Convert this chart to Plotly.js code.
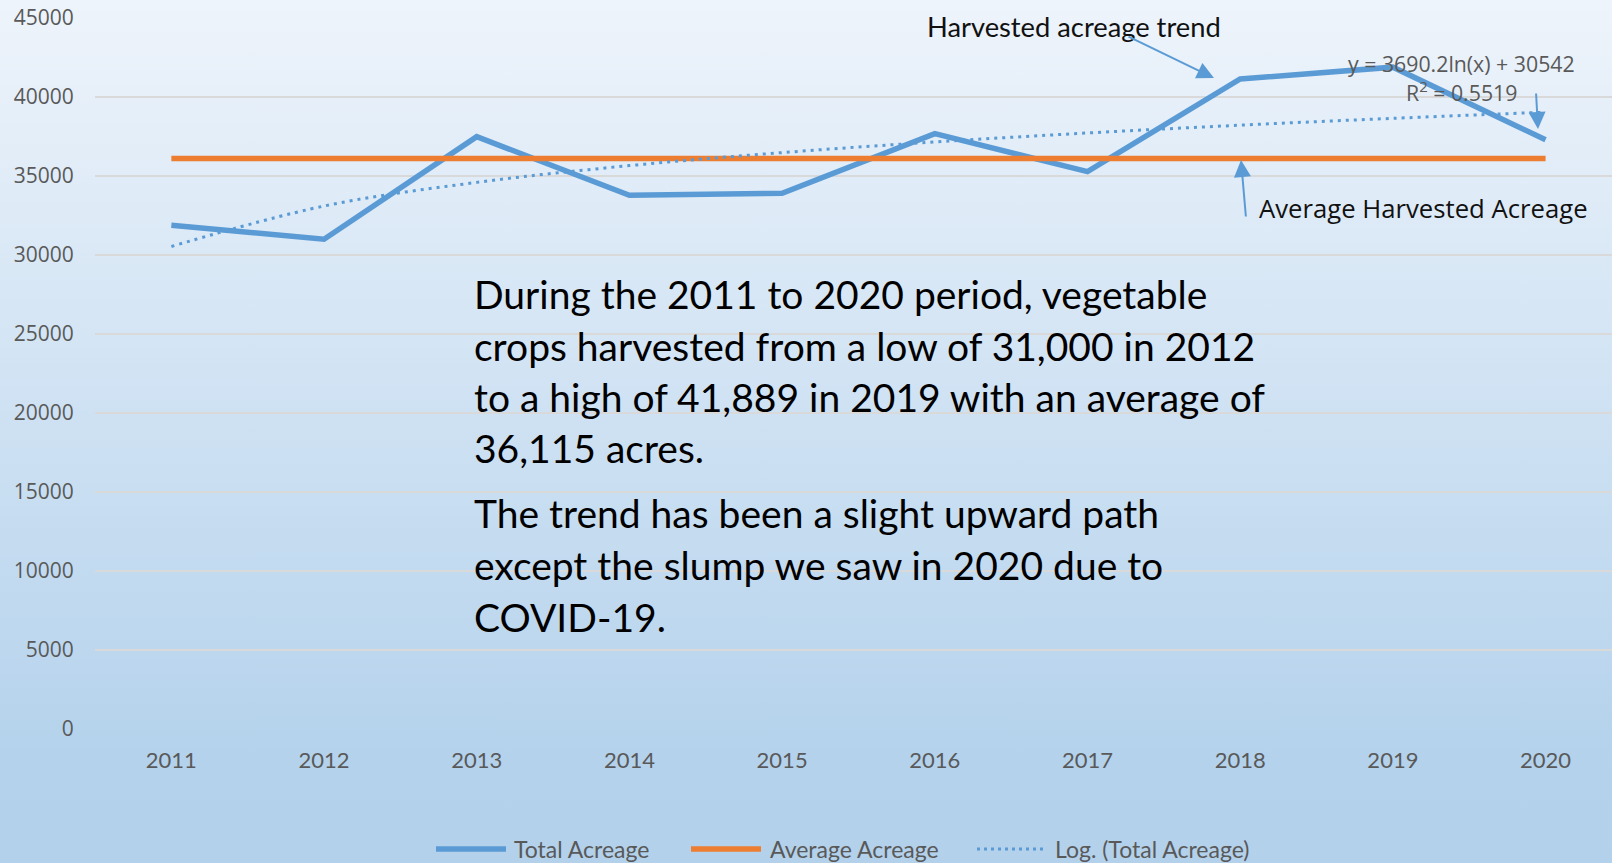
<!DOCTYPE html>
<html>
<head>
<meta charset="utf-8">
<script src="https://cdn.plot.ly/plotly-3.0.1.min.js"></script>
<style>
  html, body { margin: 0; padding: 0; }
  body { width: 1612px; height: 863px; overflow: hidden;
         background: linear-gradient(to bottom, #eef4fb 0%, #b4d2ec 88%, #b3d1eb 100%); }
  #chart { width: 1612px; height: 863px; }
</style>
</head>
<body>
<div id="chart"></div>
<script>
const years = ['2011', '2012', '2013', '2014', '2015', '2016', '2017', '2018', '2019', '2020'];
const totalAcreage = [31890, 31000, 37490, 33780, 33905, 37685, 35275, 41140, 41889, 37290];
const averageAcreage = [36115, 36115, 36115, 36115, 36115, 36115, 36115, 36115, 36115, 36115];
const logTrend = [30542, 33100, 34596, 35658, 36481, 37154, 37723, 38216, 38650, 39039];

const yTicks = [0, 5000, 10000, 15000, 20000, 25000, 30000, 35000, 40000, 45000];

const summaryLines = [
  'During the 2011 to 2020 period, vegetable',
  'crops harvested from a low of 31,000 in 2012',
  'to a high of 41,889 in 2019 with an average of',
  '36,115 acres.',
  'The trend has been a slight upward path',
  'except the slump we saw in 2020 due to',
  'COVID-19.'
];

const BLUE = '#5b9bd5';
const ORANGE = '#ed7d31';
const calibri = 'Lato, "DejaVu Sans Condensed", sans-serif';
const segoe = '"Open Sans", "DejaVu Sans", sans-serif';

// plot box in page pixels, used to place the callouts
const L = 95, R = 1612, T = 18, B = 729;
const px = x => (x - L) / (R - L);
const py = y => (B - y) / (B - T);

const traces = [
  {x: years, y: totalAcreage, name: 'Total Acreage', type: 'scatter', mode: 'lines',
   line: {color: BLUE, width: 5.5}},
  {x: years, y: averageAcreage, name: 'Average Acreage', type: 'scatter', mode: 'lines',
   line: {color: ORANGE, width: 5.5}},
  {x: years, y: logTrend, name: 'Log. (Total Acreage)', type: 'scatter', mode: 'lines',
   line: {color: BLUE, width: 3, dash: '3px,5px', shape: 'spline'}}
];

const textNote = (text, x, y, size, font, color, xanchor) => ({
  text: text, xref: 'paper', yref: 'paper', x: px(x), y: py(y),
  xanchor: xanchor || 'center', yanchor: 'middle', showarrow: false,
  font: {family: font, size: size, color: color}
});

const arrowNote = (tail, head) => ({
  text: '', xref: 'paper', yref: 'paper', x: px(head[0]), y: py(head[1]),
  ax: tail[0] - head[0], ay: tail[1] - head[1], showarrow: true,
  arrowhead: 2, arrowsize: 1.7, arrowwidth: 2, arrowcolor: BLUE, standoff: 0
});

const lineY = [294, 345.5, 397, 448, 513, 565, 617];

// legend drawn by hand so the key lines get Excel's long samples
const legendKeys = [
  {x0: 436, x1: 506, tx: 512, color: BLUE, width: 5.5, dash: 'solid'},
  {x0: 691, x1: 761, tx: 768, color: ORANGE, width: 5.5, dash: 'solid'},
  {x0: 977, x1: 1047, tx: 1053, color: BLUE, width: 3, dash: '3px,4px'}
];
const legendY = 849;

const annotations = [
  textNote('Harvested acreage trend', 1074, 26, 27.3, calibri, '#111'),
  textNote('y = 3690.2ln(x) + 30542', 1461, 64, 21.3, segoe, '#595959'),
  textNote('R<sup>2</sup> = 0.5519', 1461, 92, 21.3, segoe, '#595959'),
  textNote('Average Harvested Acreage', 1423, 209, 25.7, segoe, '#111'),
  arrowNote([1127, 36], [1214, 78]),
  arrowNote([1246, 218], [1241, 160]),
  arrowNote([1536, 92], [1538, 129])
].concat(summaryLines.map((t, i) => textNote(t, 472, lineY[i], 39, calibri, '#000', 'left')))
 .concat(traces.map((tr, i) => textNote(tr.name, legendKeys[i].tx, legendY, 23, calibri, '#595959', 'left')));

const shapes = legendKeys.map(k => ({
  type: 'line', xref: 'paper', yref: 'paper',
  x0: px(k.x0), x1: px(k.x1), y0: py(legendY), y1: py(legendY),
  line: {color: k.color, width: k.width, dash: k.dash}
}));

const layout = {
  width: 1612, height: 863,
  margin: {l: L, r: 1612 - R, t: T, b: 863 - B, autoexpand: false},
  paper_bgcolor: 'rgba(0,0,0,0)',
  plot_bgcolor: 'rgba(0,0,0,0)',
  showlegend: false,
  xaxis: {type: 'category', range: [-0.5, 9.435], showgrid: false, zeroline: false,
          showline: false, ticks: 'outside', ticklen: 12, tickcolor: 'rgba(0,0,0,0)',
          tickfont: {family: calibri, size: 22, color: '#595959'}, fixedrange: true},
  yaxis: {range: [0, 45000], tickvals: yTicks, tickformat: 'd', showgrid: true,
          gridcolor: '#d9d9d9', gridwidth: 2, zeroline: false, showline: false,
          ticks: 'outside', ticklen: 16, tickcolor: 'rgba(0,0,0,0)',
          tickfont: {family: segoe, size: 21, color: '#595959'}, fixedrange: true},
  annotations: annotations,
  shapes: shapes
};

Plotly.newPlot('chart', traces, layout, {displayModeBar: false, staticPlot: true});
</script>
</body>
</html>
